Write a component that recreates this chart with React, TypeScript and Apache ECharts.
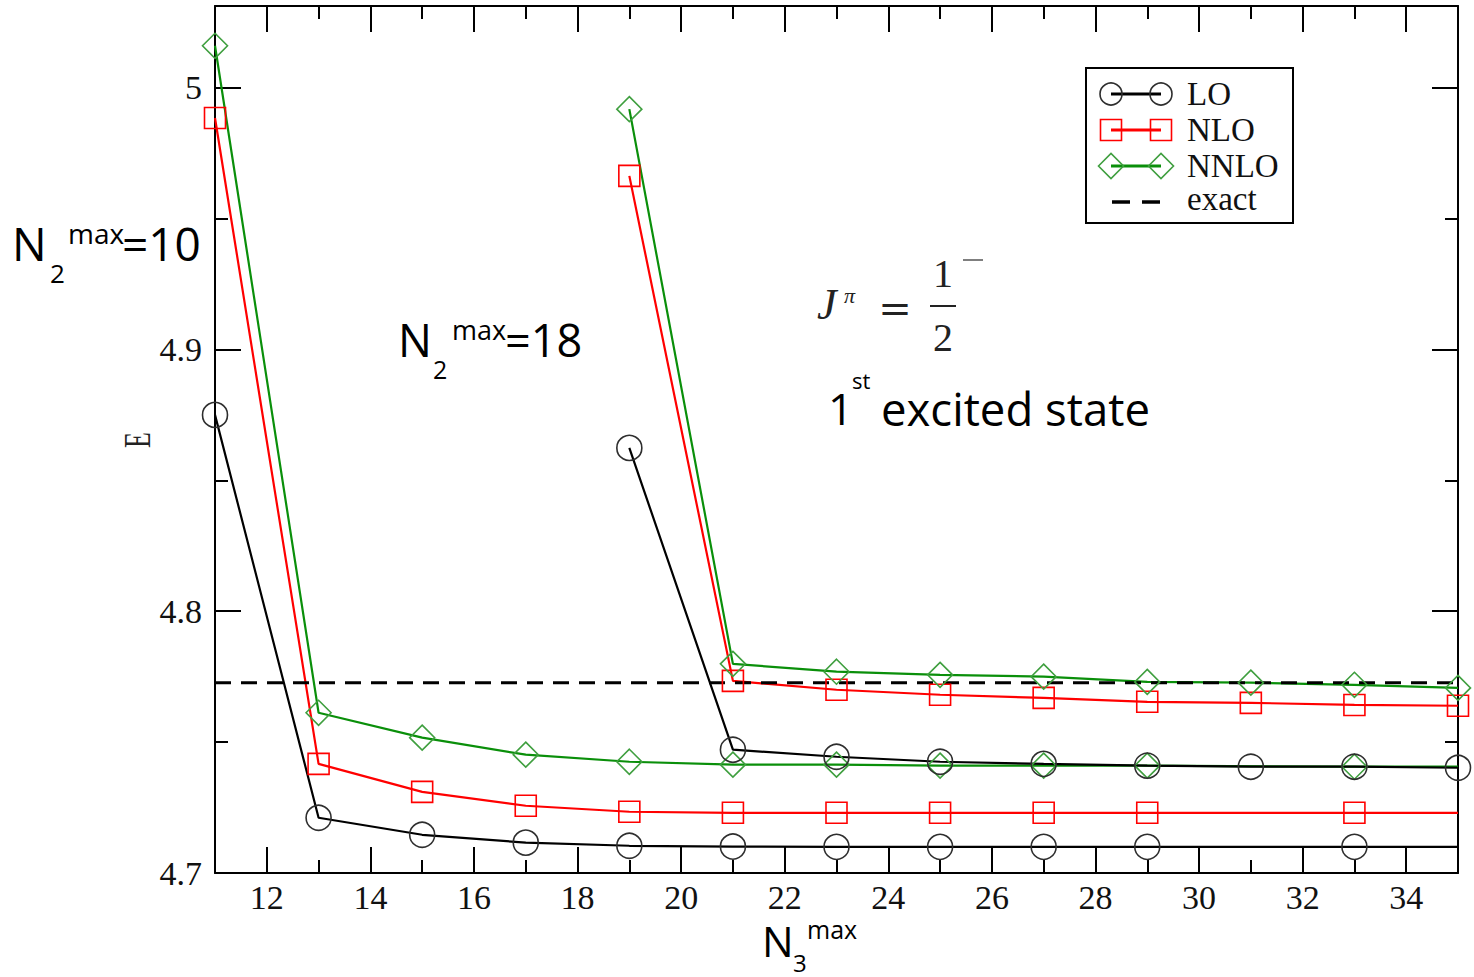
import React, { useEffect, useRef } from "react";
import * as echarts from "echarts";

// N3max grid for the N2max = 10 runs (the last point carries no marker)
const lowN3 = [11, 13, 15, 17, 19, 21, 23, 25, 27, 29, 33, 35];
const lowMarked = [true, true, true, true, true, true, true, true, true, true, true, false];
const lowLO = [4.875, 4.7211, 4.7146, 4.7116, 4.7104, 4.7101, 4.71, 4.71, 4.71, 4.71, 4.71, 4.71];
const lowNLO = [4.9884, 4.7417, 4.731, 4.7257, 4.7234, 4.723, 4.723, 4.723, 4.723, 4.723, 4.723, 4.723];
const lowNNLO = [5.016, 4.7612, 4.7517, 4.7452, 4.7425, 4.7414, 4.7414, 4.741, 4.741, 4.741, 4.7406, 4.7406];

// N3max grid for the N2max = 18 runs
const highN3 = [19, 21, 23, 25, 27, 29, 31, 33, 35];
const highLO = [4.8624, 4.7471, 4.7444, 4.7425, 4.7417, 4.741, 4.7406, 4.7406, 4.7402];
const highNLO = [4.9663, 4.7734, 4.77, 4.7681, 4.7669, 4.7654, 4.765, 4.7642, 4.7639];
const highNNLO = [4.9918, 4.7799, 4.7769, 4.7757, 4.775, 4.773, 4.7727, 4.7719, 4.7707];

// exact energy of the state
const exactN3 = [11, 35];
const exactE = 4.7727;

// axes
const xMin = 11;
const xMax = 35;
const yMin = 4.7;
const yMax = 5.0312;
const xMajor = [12, 14, 16, 18, 20, 22, 24, 26, 28, 30, 32, 34];
const xMinor = [13, 15, 17, 19, 21, 23, 25, 27, 29, 31, 33];
const yMajor = [4.7, 4.8, 4.9, 5.0];
const yMajorLabels = ["4.7", "4.8", "4.9", "5"];
const yMinor = [4.75, 4.85, 4.95];

const BLACK = "#000000";
const RED = "#ff0000";
const GREEN = "#0a8f0a";
const GREEN_MARK = "#3f9f3f";
const CIRCLE_MARK = "#2e2e2e";

const SERIF = "'Liberation Serif', 'DejaVu Serif', serif";
const SANS = "'Open Sans', 'Liberation Sans', sans-serif";

function points(xs: number[], ys: number[], marked?: boolean[]) {
  return xs.map((x, i) =>
    marked && !marked[i] ? { value: [x, ys[i]], symbol: "none" } : [x, ys[i]]
  );
}

function curve(name: string, data: any[], color: string, markColor: string, symbol: string, size: number) {
  return {
    type: "line",
    name,
    data,
    xAxisIndex: 0,
    yAxisIndex: 0,
    symbol,
    symbolSize: size,
    showSymbol: true,
    clip: false,
    lineStyle: { color, width: 2.2 },
    itemStyle: { color: "rgba(0,0,0,0)", borderColor: markColor, borderWidth: 1.6 },
    emphasis: { disabled: true },
    silent: true,
  };
}

function xAxis(position: "top" | "bottom", ticks: number[], len: number, labels: boolean, line: boolean) {
  return {
    type: "value",
    gridIndex: 0,
    position,
    min: xMin,
    max: xMax,
    axisLine: { show: line, onZero: false, lineStyle: { color: BLACK, width: 2 } },
    axisTick: { show: true, inside: true, length: len, customValues: ticks, lineStyle: { color: BLACK, width: 2 } },
    axisLabel: labels
      ? { show: true, customValues: ticks, margin: 7, color: "#111", fontFamily: SERIF, fontSize: 34 }
      : { show: false },
    splitLine: { show: false },
  };
}

function yAxis(position: "left" | "right", ticks: number[], len: number, labels: boolean, line: boolean) {
  return {
    type: "value",
    gridIndex: 0,
    position,
    min: yMin,
    max: yMax,
    axisLine: { show: line, onZero: false, lineStyle: { color: BLACK, width: 2 } },
    axisTick: { show: true, inside: true, length: len, customValues: ticks, lineStyle: { color: BLACK, width: 2 } },
    axisLabel: labels
      ? {
          show: true,
          customValues: ticks,
          margin: 13,
          color: "#111",
          fontFamily: SERIF,
          fontSize: 34,
          formatter: (v: number) => {
            const i = yMajor.findIndex((t) => Math.abs(t - v) < 1e-6);
            return i >= 0 ? yMajorLabels[i] : "";
          },
        }
      : { show: false },
    splitLine: { show: false },
  };
}

function text(str: string, x: number, y: number, family: string, size: number, extra: any = {}) {
  return {
    type: "text",
    x,
    y,
    silent: true,
    rotation: extra.rotation || 0,
    scaleX: extra.scaleX || 1,
    scaleY: extra.scaleY || 1,
    style: {
      text: str,
      fill: extra.fill || "#000",
      fontFamily: family,
      fontSize: size,
      lineHeight: Math.round(size * 0.8),
      fontStyle: extra.fontStyle || "normal",
      align: extra.align || "left",
      verticalAlign: "middle",
      textAlign: extra.align || "left",
      textVerticalAlign: "middle",
    },
  };
}

// N_sub^max=value, positioned piece by piece
function nLabel(sub: string, tail: string, x0: number, cy: number, subX: number, supX: number, tailX: number, big: number) {
  return [
    text("N", x0, cy, SANS, big),
    text(sub, subX, cy + 30, SANS, Math.round(big * 0.56)),
    text("max", supX, cy - 10, SANS, Math.round(big * 0.6)),
    ...(tail ? [text(tail, tailX, cy, SANS, big)] : []),
  ];
}

function legendGraphics() {
  const x1 = 1111;
  const x2 = 1161;
  const rows = [94, 130, 166, 202];
  const labelX = 1187;
  const els: any[] = [
    {
      type: "rect",
      shape: { x: 1086, y: 68, width: 207, height: 155 },
      style: { fill: "#fff", stroke: BLACK, lineWidth: 2 },
    },
  ];
  // LO
  els.push({ type: "line", shape: { x1, y1: rows[0], x2, y2: rows[0] }, style: { stroke: BLACK, lineWidth: 3 } });
  [x1, x2].forEach((cx) =>
    els.push({ type: "circle", shape: { cx, cy: rows[0], r: 11 }, style: { fill: "none", stroke: CIRCLE_MARK, lineWidth: 1.6 } })
  );
  // NLO
  els.push({ type: "line", shape: { x1, y1: rows[1], x2, y2: rows[1] }, style: { stroke: RED, lineWidth: 3 } });
  [x1, x2].forEach((cx) =>
    els.push({ type: "rect", shape: { x: cx - 10.5, y: rows[1] - 10.5, width: 21, height: 21 }, style: { fill: "none", stroke: RED, lineWidth: 1.6 } })
  );
  // NNLO
  els.push({ type: "line", shape: { x1, y1: rows[2], x2, y2: rows[2] }, style: { stroke: GREEN, lineWidth: 3 } });
  [x1, x2].forEach((cx) =>
    els.push({
      type: "polygon",
      shape: { points: [[cx - 12.5, rows[2]], [cx, rows[2] - 12.5], [cx + 12.5, rows[2]], [cx, rows[2] + 12.5]] },
      style: { fill: "none", stroke: GREEN_MARK, lineWidth: 1.6 },
    })
  );
  // exact
  els.push({ type: "line", shape: { x1: 1112, y1: rows[3], x2: 1130, y2: rows[3] }, style: { stroke: BLACK, lineWidth: 3.5 } });
  els.push({ type: "line", shape: { x1: 1142, y1: rows[3], x2: 1160, y2: rows[3] }, style: { stroke: BLACK, lineWidth: 3.5 } });

  els.push(text("LO", labelX, rows[0], SERIF, 33, { fill: "#111" }));
  els.push(text("NLO", labelX, rows[1], SERIF, 33, { fill: "#111" }));
  els.push(text("NNLO", labelX, rows[2], SERIF, 33, { fill: "#111" }));
  els.push(text("exact", labelX, rows[3] - 3, SERIF, 33, { fill: "#111" }));
  return els.map((e) => ({ silent: true, z: 100, ...e }));
}

function annotationGraphics() {
  const els: any[] = [];
  // N2max labels
  els.push(...nLabel("2", "=10", 12, 243, 50, 68, 122, 46));
  els.push(...nLabel("2", "=18", 398, 339, 433, 452, 505, 45));
  // x-axis title N3max
  els.push(text("N", 762, 940, SANS, 42));
  els.push(text("3", 793, 962, SANS, 24));
  els.push(text("max", 807, 929, SANS, 25));
  // y-axis title
  els.push(text("E", 137, 440, SERIF, 26, { rotation: Math.PI / 2, align: "center", fill: "#222", scaleY: 1.45 }));

  // J^pi = 1^- / 2
  els.push(text("J", 817, 304, SERIF, 44, { fontStyle: "italic", fill: "#222" }));
  els.push(text("π", 844, 295, SERIF, 22, { fontStyle: "italic", fill: "#222" }));
  els.push(text("=", 895, 308, "'DejaVu Serif', serif", 40, { align: "center", fill: "#222" }));
  els.push(text("1", 943, 273, SERIF, 40, { align: "center", fill: "#222" }));
  els.push({ type: "line", shape: { x1: 930, y1: 306, x2: 956, y2: 306 }, style: { stroke: "#222", lineWidth: 2 } });
  els.push(text("2", 943, 337, SERIF, 40, { align: "center", fill: "#222" }));
  els.push({ type: "line", shape: { x1: 963, y1: 260, x2: 983, y2: 260 }, style: { stroke: "#555", lineWidth: 1.5 } });

  // 1st excited state
  els.push(text("1", 828, 408, SANS, 44));
  els.push(text("st", 852, 380, SANS, 22));
  els.push(text("excited state", 881, 408, SANS, 45.5));
  return els.map((e) => ({ silent: true, z: 90, ...e }));
}

export default function App() {
  const ref = useRef<HTMLDivElement>(null);

  useEffect(() => {
    if (!ref.current) return;
    const chart = echarts.init(ref.current, undefined, { renderer: "svg" });

    const exactData = exactN3.map((x) => [x, exactE]);

    chart.setOption({
      animation: false,
      backgroundColor: "#ffffff",
      grid: { left: 215, right: 16, top: 6, bottom: 104, containLabel: false, outerBoundsMode: "none" },
      xAxis: [
        xAxis("bottom", xMajor, 26, true, true),
        xAxis("bottom", xMinor, 13, false, false),
        xAxis("top", xMajor, 26, false, true),
        xAxis("top", xMinor, 13, false, false),
      ],
      yAxis: [
        yAxis("left", yMajor, 26, true, true),
        yAxis("left", yMinor, 13, false, false),
        yAxis("right", yMajor, 26, false, true),
        yAxis("right", yMinor, 13, false, false),
      ],
      series: [
        curve("LO", points(lowN3, lowLO, lowMarked), BLACK, CIRCLE_MARK, "circle", 25),
        curve("NLO", points(lowN3, lowNLO, lowMarked), RED, RED, "rect", 21),
        curve("NNLO", points(lowN3, lowNNLO, lowMarked), GREEN, GREEN_MARK, "diamond", 25),
        curve("LO", points(highN3, highLO), BLACK, CIRCLE_MARK, "circle", 25),
        curve("NLO", points(highN3, highNLO), RED, RED, "rect", 21),
        curve("NNLO", points(highN3, highNNLO), GREEN, GREEN_MARK, "diamond", 25),
        {
          type: "line",
          name: "exact",
          data: exactData,
          symbol: "none",
          lineStyle: { color: BLACK, width: 3, type: [16, 10] },
          emphasis: { disabled: true },
          silent: true,
          z: 3,
        },
      ],
      graphic: [...legendGraphics(), ...annotationGraphics()],
    });

    return () => chart.dispose();
  }, []);

  return (
    <div
      ref={ref}
      style={{ position: "fixed", left: 0, top: 0, width: 1474, height: 977, background: "#fff" }}
    />
  );
}
